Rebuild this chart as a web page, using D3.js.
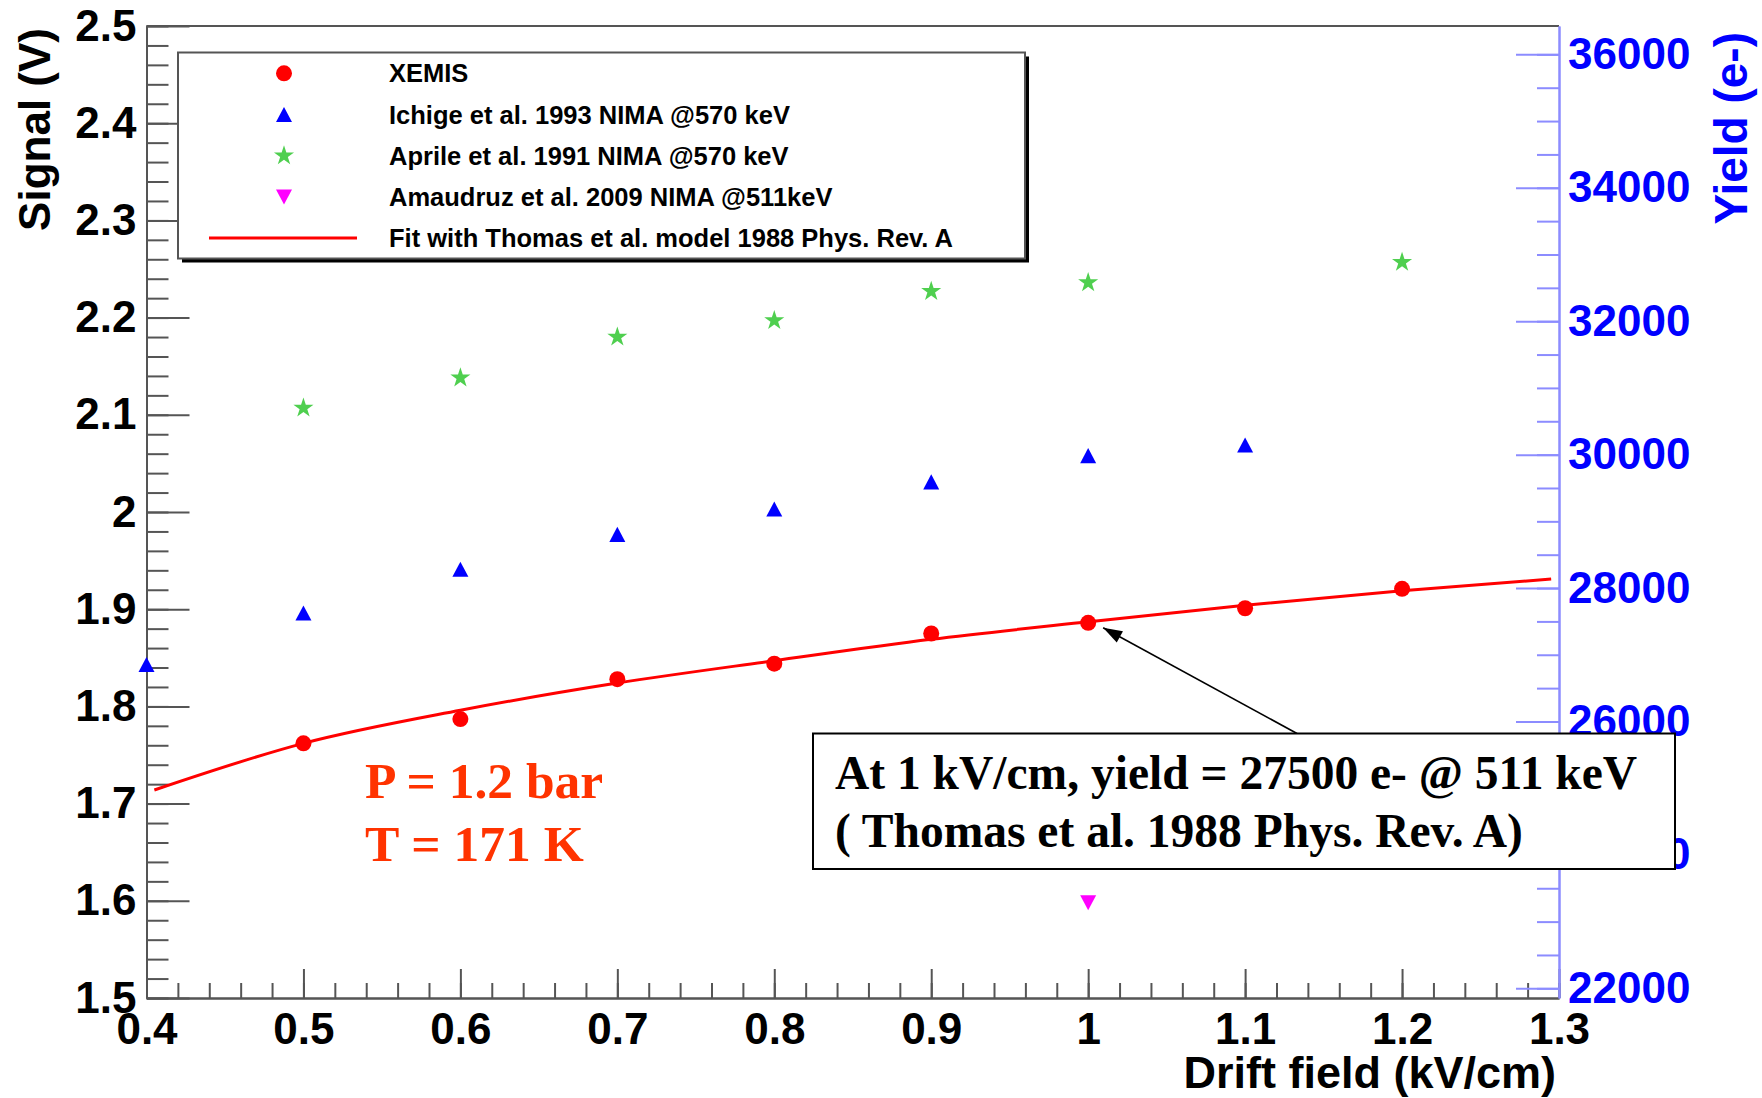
<!DOCTYPE html>
<html lang="en">
<head>
<meta charset="utf-8">
<script src="https://d3js.org/d3.v7.min.js"></script>
<title>Signal vs drift field</title>
<style>
  body { margin: 0; background: #fff; }
  svg { display: block; }
</style>
</head>
<body>
<svg width="1762" height="1098"></svg>
<script>
// ---- data (drift field in kV/cm, signal in V) ----
var fieldXemis = [0.5, 0.6, 0.7, 0.8, 0.9, 1.0, 1.1, 1.2];
var signalXemis = [1.762, 1.787, 1.828, 1.844, 1.875, 1.886, 1.901, 1.921];

var fieldIchige = [0.4, 0.5, 0.6, 0.7, 0.8, 0.9, 1.0, 1.1];
var signalIchige = [1.843, 1.896, 1.941, 1.977, 2.003, 2.031, 2.058, 2.069];

var fieldAprile = [0.5, 0.6, 0.7, 0.8, 0.9, 1.0, 1.2];
var signalAprile = [2.107, 2.138, 2.180, 2.197, 2.227, 2.236, 2.257];

var fieldAmaudruz = [1.0];
var signalAmaudruz = [1.598];

// Thomas model fit curve
var fieldFit = [0.405, 0.5, 0.6, 0.7, 0.8, 0.9, 1.0, 1.1, 1.2, 1.295];
var signalFit = [1.714, 1.762, 1.796, 1.824, 1.847, 1.869, 1.887, 1.904, 1.919, 1.931];

var xTicks = [0.4, 0.5, 0.6, 0.7, 0.8, 0.9, 1.0, 1.1, 1.2, 1.3];
var yTicks = [1.5, 1.6, 1.7, 1.8, 1.9, 2.0, 2.1, 2.2, 2.3, 2.4, 2.5];
var yieldTicks = [22000, 24000, 26000, 28000, 30000, 32000, 34000, 36000];
var electronsPerVolt = 14570;   // right axis = signal * this

var legendLabels = [
  "XEMIS",
  "Ichige et al. 1993 NIMA @570 keV",
  "Aprile et al. 1991 NIMA @570 keV",
  "Amaudruz et al. 2009 NIMA @511keV",
  "Fit with Thomas et al. model 1988 Phys. Rev. A"
];
var noteLines = [
  "At 1 kV/cm, yield = 27500 e- @ 511 keV",
  "( Thomas et al. 1988 Phys. Rev. A)"
];
var conditionLines = ["P = 1.2 bar", "T = 171 K"];

// ---- layout ----
var svg = d3.select("svg");
var frame = { left: 146.5, right: 1559, top: 26, bottom: 998 };
var sans = "'Liberation Sans', Arial, Helvetica, sans-serif";
var serif = "'Liberation Serif', 'Times New Roman', serif";

var x = d3.scaleLinear().domain([0.4, 1.3]).range([frame.left, frame.right]);
var y = d3.scaleLinear().domain([1.5, 2.5]).range([frame.bottom, frame.top]);
var y2 = d3.scaleLinear()
    .domain([1.5 * electronsPerVolt, 2.5 * electronsPerVolt])
    .range([frame.bottom, frame.top]);

var fmt = d3.format("~g");
var r3 = function (v) { return Math.round(v * 1000) / 1000; };
var xMinor = d3.range(0, 46).map(function (i) { return r3(0.4 + i * 0.02); });
var yMinor = d3.range(0, 51).map(function (i) { return r3(1.5 + i * 0.02); });
var yieldMinor = d3.range(22000, 36001, 500);

function styleAxis(g, lineColor, textColor, size) {
  g.attr("font-family", sans).attr("font-weight", "bold").attr("font-size", size);
  g.selectAll("line, path").attr("stroke", lineColor).attr("stroke-width", 2);
  g.selectAll("text").attr("fill", textColor);
}

// top frame edge
svg.append("line")
  .attr("x1", frame.left).attr("x2", frame.right).attr("y1", frame.top).attr("y2", frame.top)
  .attr("stroke", "#555").attr("stroke-width", 2);

// x axis
svg.append("g").attr("transform", "translate(0," + frame.bottom + ")")
  .call(d3.axisBottom(x).tickValues(xMinor).tickSize(-15).tickSizeOuter(0).tickFormat(""))
  .call(styleAxis, "#555", "#000", 44);
svg.append("g").attr("transform", "translate(0," + frame.bottom + ")")
  .call(d3.axisBottom(x).tickValues(xTicks).tickSize(-29).tickSizeOuter(0)
        .tickPadding(15).tickFormat(fmt))
  .call(styleAxis, "#555", "#000", 44);

// left axis
svg.append("g").attr("transform", "translate(" + frame.left + ",0)")
  .call(d3.axisLeft(y).tickValues(yMinor).tickSize(-22).tickSizeOuter(0).tickFormat(""))
  .call(styleAxis, "#555", "#000", 44);
svg.append("g").attr("transform", "translate(" + frame.left + ",0)")
  .call(d3.axisLeft(y).tickValues(yTicks).tickSize(-43).tickSizeOuter(0)
        .tickPadding(10).tickFormat(fmt))
  .call(styleAxis, "#555", "#000", 44);

// right (yield) axis
svg.append("g").attr("transform", "translate(" + frame.right + ",0)")
  .call(d3.axisRight(y2).tickValues(yieldMinor).tickSize(-22).tickSizeOuter(0).tickFormat(""))
  .call(styleAxis, "#8c8cff", "#0000ff", 44);
svg.append("g").attr("transform", "translate(" + frame.right + ",0)")
  .call(d3.axisRight(y2).tickValues(yieldTicks).tickSize(-43).tickSizeOuter(0)
        .tickPadding(9).tickFormat(d3.format("d")))
  .call(styleAxis, "#8c8cff", "#0000ff", 44);

// axis titles
svg.append("text")
  .attr("x", 1556).attr("y", 1088).attr("text-anchor", "end")
  .attr("font-family", sans).attr("font-weight", "bold").attr("font-size", 45)
  .text("Drift field (kV/cm)");
svg.append("text")
  .attr("transform", "translate(50,28) rotate(-90)").attr("text-anchor", "end")
  .attr("font-family", sans).attr("font-weight", "bold").attr("font-size", 44)
  .text("Signal (V)");
svg.append("text")
  .attr("transform", "translate(1747,32) rotate(-90)").attr("text-anchor", "end")
  .attr("font-family", sans).attr("font-weight", "bold").attr("font-size", 46)
  .attr("fill", "#0000ff")
  .text("Yield (e-)");

// ---- marks ----
var triUp = { draw: function (ctx, w) {
  ctx.moveTo(0, -w * 0.47); ctx.lineTo(w / 2, w * 0.47); ctx.lineTo(-w / 2, w * 0.47); ctx.closePath();
} };
var triDown = { draw: function (ctx, w) {
  ctx.moveTo(0, w * 0.47); ctx.lineTo(w / 2, -w * 0.47); ctx.lineTo(-w / 2, -w * 0.47); ctx.closePath();
} };

var fitLine = d3.line()
  .x(function (d, i) { return x(fieldFit[i]); })
  .y(function (d) { return y(d); })
  .curve(d3.curveMonotoneX);

svg.append("path")
  .datum(signalFit)
  .attr("d", fitLine)
  .attr("fill", "none").attr("stroke", "#ff0000").attr("stroke-width", 3);

function drawSymbols(xs, ys, type, size, color) {
  svg.append("g").selectAll("path")
    .data(ys).enter().append("path")
    .attr("transform", function (d, i) { return "translate(" + x(xs[i]) + "," + y(d) + ")"; })
    .attr("d", d3.symbol(type, size))
    .attr("fill", color);
}

drawSymbols(fieldAprile, signalAprile, d3.symbolStar, 125, "#4fcf4f");
drawSymbols(fieldIchige, signalIchige, triUp, 16, "#0000ff");
drawSymbols(fieldAmaudruz, signalAmaudruz, triDown, 16, "#ff00ff");

svg.append("g").selectAll("circle")
  .data(signalXemis).enter().append("circle")
  .attr("cx", function (d, i) { return x(fieldXemis[i]); })
  .attr("cy", function (d) { return y(d); })
  .attr("r", 8)
  .attr("fill", "#ff0000");

// ---- legend ----
var lg = { x: 178, y: 52.5, w: 847, h: 206, row: 41.2, first: 20.8 };
svg.append("rect")
  .attr("x", lg.x + 4).attr("y", lg.y + 4).attr("width", lg.w).attr("height", lg.h)
  .attr("fill", "#000");
svg.append("rect")
  .attr("x", lg.x).attr("y", lg.y).attr("width", lg.w).attr("height", lg.h)
  .attr("fill", "#fff").attr("stroke", "#555").attr("stroke-width", 2);

var legend = svg.append("g").attr("transform", "translate(" + lg.x + "," + lg.y + ")");
legendLabels.forEach(function (label, i) {
  var cy = lg.first + i * lg.row;
  var cx = 106;
  if (i === 0) legend.append("circle").attr("cx", cx).attr("cy", cy).attr("r", 8).attr("fill", "#ff0000");
  if (i === 1) legend.append("path").attr("transform", "translate(" + cx + "," + cy + ")")
      .attr("d", d3.symbol(triUp, 16)).attr("fill", "#0000ff");
  if (i === 2) legend.append("path").attr("transform", "translate(" + cx + "," + cy + ")")
      .attr("d", d3.symbol(d3.symbolStar, 125)).attr("fill", "#4fcf4f");
  if (i === 3) legend.append("path").attr("transform", "translate(" + cx + "," + cy + ")")
      .attr("d", d3.symbol(triDown, 16)).attr("fill", "#ff00ff");
  if (i === 4) legend.append("line").attr("x1", 31).attr("x2", 179).attr("y1", cy).attr("y2", cy)
      .attr("stroke", "#ff0000").attr("stroke-width", 3);
  legend.append("text")
    .attr("x", 211).attr("y", cy).attr("dy", "0.36em")
    .attr("font-family", sans).attr("font-weight", "bold").attr("font-size", 25.5)
    .text(label);
});

// ---- pressure / temperature note ----
svg.append("g").selectAll("text")
  .data(conditionLines).enter().append("text")
  .attr("x", 365).attr("y", function (d, i) { return 798 + i * 63; })
  .attr("font-family", serif).attr("font-weight", "bold").attr("font-size", 51.5)
  .attr("fill", "#ff3300")
  .text(function (d) { return d; });

// ---- annotation box with arrow to the 1 kV/cm point ----
var box = { x: 813, y: 733.5, w: 862, h: 135.5 };
var tip = [x(fieldXemis[5]) + 15, y(signalXemis[5]) + 5];
var tail = [1297, box.y];

svg.append("line")
  .attr("x1", tail[0]).attr("y1", tail[1]).attr("x2", tip[0]).attr("y2", tip[1])
  .attr("stroke", "#000").attr("stroke-width", 1.6);
var ang = Math.atan2(tip[1] - tail[1], tip[0] - tail[0]);
var headLen = 19, headHalf = 6.5;
var bx = tip[0] - headLen * Math.cos(ang), by = tip[1] - headLen * Math.sin(ang);
svg.append("path")
  .attr("d", "M" + tip[0] + "," + tip[1] +
    "L" + (bx + headHalf * Math.sin(ang)) + "," + (by - headHalf * Math.cos(ang)) +
    "L" + (bx - headHalf * Math.sin(ang)) + "," + (by + headHalf * Math.cos(ang)) + "Z")
  .attr("fill", "#000");

svg.append("rect")
  .attr("x", box.x).attr("y", box.y).attr("width", box.w).attr("height", box.h)
  .attr("fill", "#fff").attr("stroke", "#000").attr("stroke-width", 2);
svg.append("g").selectAll("text")
  .data(noteLines).enter().append("text")
  .attr("x", box.x + 22).attr("y", function (d, i) { return box.y + 55 + i * 58; })
  .attr("font-family", serif).attr("font-weight", "bold").attr("font-size", 47.5)
  .attr("fill", "#000")
  .text(function (d) { return d; });
</script>
</body>
</html>
